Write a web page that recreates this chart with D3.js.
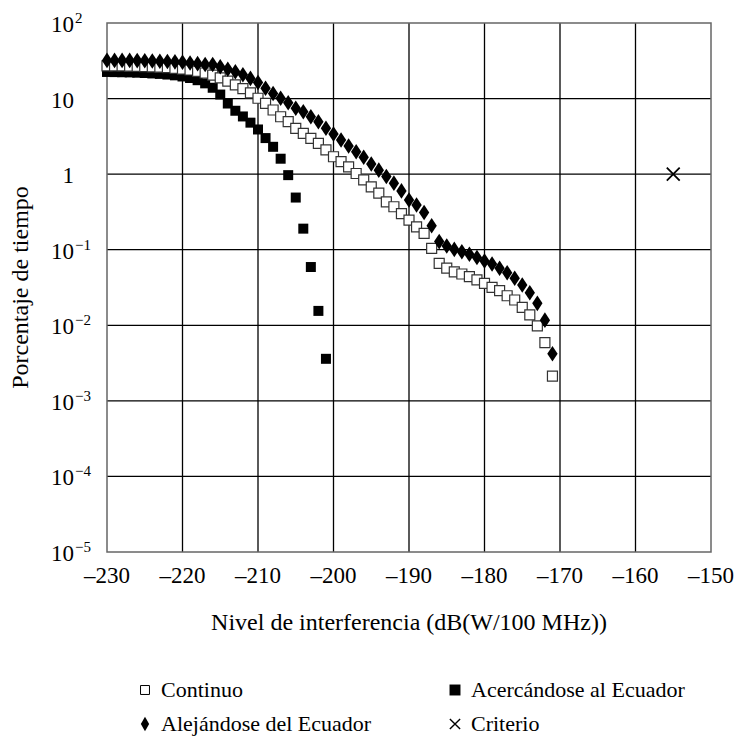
<!DOCTYPE html>
<html><head><meta charset="utf-8">
<script src="https://cdn.jsdelivr.net/npm/d3@7"></script>
<style>body{margin:0;background:#fff}svg{display:block}text{font-family:"Liberation Serif","Times New Roman",serif;fill:#000}</style>
</head><body>
<svg id="c" width="734" height="740"></svg>
<script>
const contX = d3.range(-230, -170);
const contY = [27,27,27,26.8,26.6,26.4,26.2,26,25.6,25.2,24.6,23.9,23.0,21.8,20.4,18.8,17.0,15.2,13.5,11.9,10.1,8.65,7.06,5.75,4.94,4.04,3.47,2.98,2.56,2.09,1.70,1.46,1.25,1.02,0.84,0.68,0.56,0.43,0.37,0.30,0.247,0.20,0.165,0.104,0.066,0.057,0.051,0.0477,0.044,0.0398,0.0359,0.0318,0.0287,0.0246,0.0216,0.0173,0.0137,0.0098,0.0059,0.00213];
const acerX = d3.range(-230, -200);
const acerY = [22.5,22.4,22.3,22.2,22.0,21.8,21.5,21.2,20.8,20.3,19.6,18.7,17.5,15.9,13.9,11.3,8.6,6.9,5.8,4.8,3.9,3.0,2.3,1.6,0.97,0.49,0.19,0.059,0.0155,0.0036];
const alejX = d3.range(-230, -170);
const alejY = [32,32,32,32,31.8,31.6,31.4,31.2,31,30.6,30.2,29.6,29.0,28.2,28.3,26.3,24.5,22.7,20.7,18.5,16.3,13.7,11.7,10.1,8.8,7.43,6.71,5.75,4.94,4.04,3.4,2.83,2.36,1.98,1.67,1.36,1.13,0.93,0.76,0.6,0.455,0.39,0.31,0.208,0.128,0.112,0.101,0.094,0.087,0.079,0.071,0.0647,0.0568,0.0497,0.0419,0.0341,0.027,0.0195,0.0117,0.0042];
const critX = [-155];
const critY = [1];
const xTicks = [-230,-220,-210,-200,-190,-180,-170,-160,-150];
const yTicks = [100,10,1,0.1,0.01,0.001,0.0001,0.00001];
const yTickBase = ["10","10","1","10","10","10","10","10"];
const yTickSup = ["2","","","\u22121","\u22122","\u22123","\u22124","\u22125"];
const xTitle = "Nivel de interferencia (dB(W/100 MHz))";
const yTitle = "Porcentaje de tiempo";
const legendNames = ["Continuo","Acercándose al Ecuador","Alejándose del Ecuador","Criterio"];

const L=107,R=711,T=23,B=552;
const svg=d3.select("#c");
const x=d3.scaleLinear().domain([-230,-150]).range([L,R]);
const y=d3.scaleLog().domain([1e-5,100]).range([B,T]);

// grid
const g=svg.append("g");
g.selectAll(".vx").data(xTicks.slice(1,-1)).join("line")
 .attr("x1",d=>x(d)).attr("x2",d=>x(d)).attr("y1",T).attr("y2",B)
 .attr("stroke","#000").attr("stroke-width",1.3);
g.selectAll(".hy").data(yTicks.slice(1,-1)).join("line")
 .attr("x1",L).attr("x2",R).attr("y1",d=>y(d)).attr("y2",d=>y(d))
 .attr("stroke","#000").attr("stroke-width",1.3);
svg.append("rect").attr("x",L).attr("y",T).attr("width",R-L).attr("height",B-T)
 .attr("fill","none").attr("stroke","#666").attr("stroke-width",1.5);

// x tick labels
svg.selectAll(".xt").data(xTicks).join("text")
 .attr("x",d=>x(d)).attr("y",B+31).attr("text-anchor","middle").attr("font-size",23)
 .text(d=>d<0?"\u2013"+Math.abs(d):d);
// y tick labels
yTicks.forEach((v,i)=>{
  svg.append("text").attr("x",74).attr("y",y(v)+9).attr("text-anchor","end").attr("font-size",23).text(yTickBase[i]);
  if(yTickSup[i]) svg.append("text").attr("x",75).attr("y",y(v)).attr("font-size",15).text(yTickSup[i]);
});
svg.append("text").attr("x",(L+R)/2).attr("y",630).attr("text-anchor","middle").attr("font-size",24).text(xTitle);
svg.append("text").attr("transform",`translate(28,${(T+B)/2}) rotate(-90)`).attr("text-anchor","middle").attr("font-size",24).text(yTitle);

const sq=d3.symbol().type(d3.symbolSquare).size(100)();
const dm=d3.symbol().type(d3.symbolDiamond).size(70)();
const cr=d3.symbol().type(d3.symbolX).size(110)();

const pts=svg.append("g");
pts.selectAll(".a").data(acerX.map((v,i)=>[v,acerY[i]])).join("path")
 .attr("d",sq).attr("transform",d=>`translate(${x(d[0])},${y(d[1])})`).attr("fill","#000");
pts.selectAll(".c").data(contX.map((v,i)=>[v,contY[i]])).join("path")
 .attr("d",sq).attr("transform",d=>`translate(${x(d[0])},${y(d[1])})`).attr("fill","#fff").attr("stroke","#333").attr("stroke-width",1.2);
pts.selectAll(".d").data(alejX.map((v,i)=>[v,alejY[i]])).join("path")
 .attr("d",dm).attr("transform",d=>`translate(${x(d[0])},${y(d[1])}) scale(1.15,1)`).attr("fill","#000");
pts.selectAll(".k").data(critX.map((v,i)=>[v,critY[i]])).join("path")
 .attr("d",cr).attr("transform",d=>`translate(${x(d[0])},${y(d[1])})`).attr("fill","none").attr("stroke","#000").attr("stroke-width",1.8);

// legend
const lg=svg.append("g");
const lx=[145,455], ly=[697,731];
const items=[[0,0],[1,0],[0,1],[1,1]];
items.forEach(([c,r],i)=>{
  const cx=lx[c], cy=ly[r]-7;
  if(i===0) lg.append("path").attr("d",d3.symbol().type(d3.symbolSquare).size(80)()).attr("transform",`translate(${cx},${cy})`).attr("fill","#fff").attr("stroke","#000").attr("stroke-width",1);
  if(i===1) lg.append("path").attr("d",d3.symbol().type(d3.symbolSquare).size(120)()).attr("transform",`translate(${cx},${cy})`).attr("fill","#000");
  if(i===2) lg.append("path").attr("d",d3.symbol().type(d3.symbolDiamond).size(60)()).attr("transform",`translate(${cx},${cy})`).attr("fill","#000");
  if(i===3) lg.append("path").attr("d",d3.symbol().type(d3.symbolX).size(70)()).attr("transform",`translate(${cx},${cy})`).attr("fill","none").attr("stroke","#000").attr("stroke-width",1.4);
  lg.append("text").attr("x",cx+16).attr("y",ly[r]).attr("font-size",22).text(legendNames[i]);
});
</script>
</body></html>
